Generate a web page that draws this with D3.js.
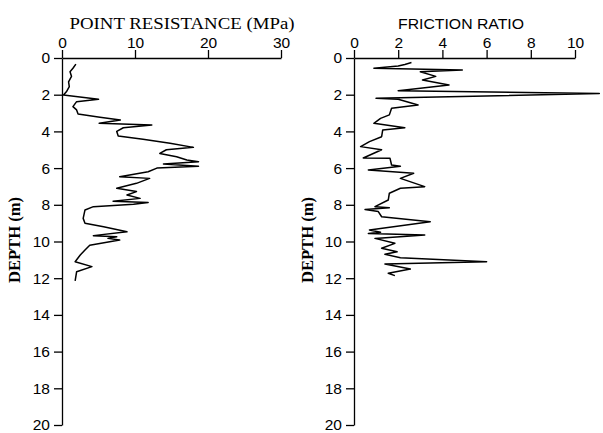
<!DOCTYPE html>
<html><head><meta charset="utf-8">
<script src="https://cdn.jsdelivr.net/npm/d3@7"></script>
<style>body{margin:0;background:#fff}svg{display:block}</style>
</head><body>
<script>
// Depth (m) and point resistance (MPa)
const prDepth = [0.33,0.56,0.75,1.0,1.3,1.56,1.84,2.02,2.25,2.38,2.65,2.83,3.05,3.23,3.38,3.56,3.65,3.8,4.0,4.25,4.43,4.65,4.87,5.0,5.2,5.38,5.56,5.65,5.78,5.9,6.0,6.2,6.47,6.56,6.83,7.1,7.28,7.47,7.65,7.8,7.87,7.97,8.1,8.28,8.74,9.0,9.2,9.47,9.68,9.74,9.83,9.92,10.2,10.46,10.74,11.1,11.37,11.65,12.15];
const prValue = [1.9,1.5,1.1,1.3,0.9,1.0,0.6,0.2,5.0,2.0,1.5,2.0,2.2,5.2,8.0,5.1,12.3,8.4,7.5,7.7,11.1,14.8,18.0,14.3,13.4,15.7,17.1,18.7,13.9,18.7,13.0,11.8,7.9,12.0,10.2,7.5,10.2,8.9,10.7,7.0,11.8,9.8,4.3,3.15,2.9,3.15,5.7,8.9,4.3,7.5,6.3,7.9,3.8,3.15,2.5,1.8,4.1,2.0,1.8];
// Depth (m) and friction ratio
const frDepth = [0.25,0.35,0.44,0.56,0.65,0.75,1.0,1.2,1.47,1.65,1.78,1.93,2.2,2.25,2.56,2.74,3.1,3.29,3.56,3.8,3.92,4.29,4.56,4.83,5.0,5.45,5.47,5.83,5.9,6.1,6.28,6.56,7.01,7.1,7.37,7.74,8.1,8.16,8.25,8.37,8.65,8.92,9.37,9.5,9.56,9.65,9.83,10.1,10.37,10.56,10.7,10.88,11.1,11.23,11.5,11.73,11.86];
const frValue = [2.6,2.3,2.0,0.9,4.9,3.0,3.7,3.1,4.3,3.0,2.0,11.1,1.0,2.0,2.9,1.7,1.6,1.2,0.9,2.3,1.3,1.25,0.7,0.3,1.25,0.42,1.63,1.7,2.1,0.65,2.7,2.1,3.2,2.1,1.6,1.55,0.95,1.6,0.5,1.1,1.25,3.45,0.7,1.2,0.65,3.2,0.95,1.85,1.25,1.95,1.4,2.1,6.0,1.4,2.55,1.55,1.85];

const depthTicks = [0,2,4,6,8,10,12,14,16,18,20];
const prTicks = [0,10,20,30];
const frTicks = [0,2,4,6,8,10];

const W = 603, H = 433;
const svg = d3.select("body").append("svg").attr("width", W).attr("height", H);

const y = d3.scaleLinear().domain([0, 20]).range([58, 425]);

function panel(x0, x1, domainMax, ticks, title, titleFont, titleX, titleLen, depthX, depths, values) {
  const x = d3.scaleLinear().domain([0, domainMax]).range([x0, x1]);
  const g = svg.append("g");
  const top = g.append("g").attr("transform", `translate(0,${y(0)})`)
    .call(d3.axisTop(x).tickValues(ticks).tickSize(8).tickSizeOuter(0).tickPadding(2).tickFormat(d3.format("d")));
  const left = g.append("g").attr("transform", `translate(${x0},0)`)
    .call(d3.axisLeft(y).tickValues(depthTicks).tickSize(8).tickSizeOuter(0).tickPadding(4).tickFormat(d3.format("d")));
  [top, left].forEach(a => {
    a.selectAll("path.domain").attr("stroke", "#000").attr("stroke-width", 1.3);
    a.selectAll(".tick line").attr("stroke", "#000").attr("stroke-width", 1.3);
    a.selectAll(".tick text").attr("fill", "#000").style("font-family", "'Liberation Sans', Arial, sans-serif").style("font-size", "15.5px");
  });
  g.append("text").attr("x", titleX).attr("y", 29).attr("text-anchor", "middle")
    .attr("textLength", titleLen).attr("lengthAdjust", "spacingAndGlyphs")
    .style("font-family", titleFont.family).style("font-size", titleFont.size).style("font-weight", titleFont.weight)
    .text(title);
  g.append("text").attr("transform", `translate(${depthX},240) rotate(-90)`).attr("text-anchor", "middle")
    .attr("textLength", 86).attr("lengthAdjust", "spacingAndGlyphs")
    .style("font-family", "'Liberation Serif', 'Times New Roman', serif").style("font-size", "16.5px").style("font-weight", "bold")
    .text("DEPTH (m)");
  const line = d3.line().x((d, i) => x(values[i])).y(d => y(d));
  g.append("path").datum(depths).attr("d", line).attr("fill", "none").attr("stroke", "#000")
    .attr("stroke-width", 1.5).attr("stroke-linejoin", "round");
}

panel(62, 281, 30, prTicks, "POINT RESISTANCE (MPa)", {family: "'Liberation Serif', 'Times New Roman', serif", size: "17px", weight: "normal"}, 182, 225, 20, prDepth, prValue);
panel(354, 575, 10, frTicks, "FRICTION  RATIO", {family: "'Liberation Sans', Arial, sans-serif", size: "15.5px", weight: "normal"}, 461, 126, 313, frDepth, frValue);
</script>
</body></html>
